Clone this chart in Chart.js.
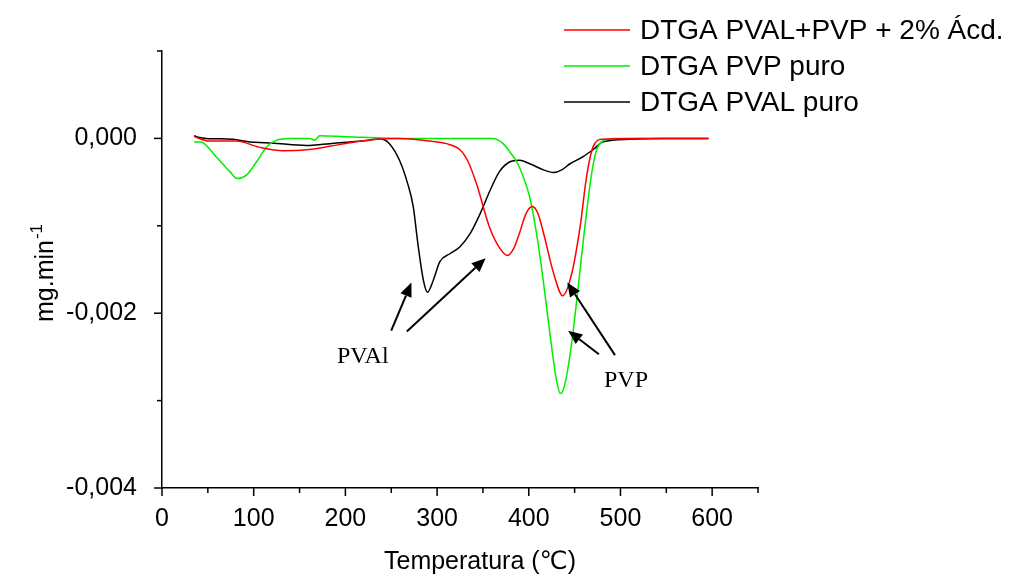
<!DOCTYPE html>
<html>
<head>
<meta charset="utf-8">
<script src="https://cdn.jsdelivr.net/npm/chart.js@4"></script>
<style>
  html, body { margin: 0; padding: 0; background: #fff; }
  #wrap { width: 1024px; height: 578px; }
</style>
</head>
<body>
<div id="wrap"><canvas id="chart" width="1024" height="578"></canvas></div>
<script>
// series: temperature (°C) and DTGA (mg.min-1)
var seriesNames = ['DTGA PVAL+PVP + 2% Ácd.', 'DTGA PVP puro', 'DTGA PVAL puro'];

var redT = [35, 52, 81, 106, 132, 157, 183, 205, 234, 259, 292, 310, 325, 334, 343, 357, 368, 377, 384, 390, 397, 404, 410, 416, 427, 437, 447, 456, 463, 470, 480, 520, 596];
var redV = [0.02, -0.03, -0.03, -0.10, -0.14, -0.13, -0.09, -0.05, -0.01, 0, -0.03, -0.06, -0.13, -0.27, -0.52, -1.01, -1.25, -1.34, -1.25, -1.08, -0.86, -0.78, -0.86, -1.08, -1.54, -1.80, -1.54, -1.01, -0.44, -0.10, -0.01, 0, 0];

var greenT = [35, 42, 59, 74, 82, 92, 103, 114, 125, 139, 161, 166.5, 172, 200, 259, 361, 372, 379, 387, 394, 401, 408.5, 415.7, 423, 430.3, 434.7, 439.4, 446.7, 453.9, 461.2, 468.6, 474, 479.5, 492, 596];
var greenV = [-0.04, -0.04, -0.21, -0.38, -0.46, -0.42, -0.27, -0.10, -0.02, 0, 0, -0.02, 0.03, 0.02, 0, 0, -0.06, -0.15, -0.27, -0.44, -0.67, -1.09, -1.62, -2.23, -2.77, -2.92, -2.81, -2.35, -1.70, -1.01, -0.40, -0.13, -0.04, 0, 0];

var blackT = [35, 41, 48, 77, 96, 114, 139, 161, 183, 205, 226, 237, 248, 259, 268, 274, 279, 285, 289.5, 296, 303, 314, 325, 336, 347, 358, 368, 379, 390, 401, 416, 427, 436, 445, 459, 470, 481, 510, 546, 596];
var blackV = [0.03, 0.01, 0, -0.01, -0.04, -0.05, -0.07, -0.08, -0.06, -0.04, -0.02, -0.005, -0.06, -0.25, -0.52, -0.78, -1.20, -1.62, -1.76, -1.62, -1.41, -1.32, -1.24, -1.09, -0.86, -0.59, -0.38, -0.27, -0.25, -0.29, -0.36, -0.39, -0.36, -0.29, -0.21, -0.13, -0.04, -0.01, 0, 0];

// annotations (data coordinates)
var arrowFromT = [250, 267, 494, 476.5];
var arrowFromV = [-0.00220, -0.00221, -0.00248, -0.00247];
var arrowToT = [272, 353, 442, 443];
var arrowToV = [-0.00165, -0.00137, -0.00165, -0.00220];
var noteText = ['PVAl', 'PVP'];
var noteT = [219, 506];
var noteV = [-0.00257, -0.00285];

function toPoints(t, v) {
    var pts = [];
    for (var i = 0; i < t.length; i++) {
        pts.push({ x: t[i], y: v[i] / 1000 });
    }
    return pts;
}

var sans = '"Liberation Sans", Arial, "DejaVu Sans", sans-serif';

var extras = {
    id: 'extras',
    afterDraw: function(chart) {
        var ctx = chart.ctx;
        var xs = chart.scales.x, ys = chart.scales.y;
        ctx.save();
        ctx.strokeStyle = '#000';
        ctx.fillStyle = '#000';
        ctx.lineWidth = 1.5;

        // tick marks, majors longer
        xs.ticks.forEach(function(t) {
            var px = xs.getPixelForValue(t.value);
            var len = (Math.round(t.value) % 100 === 0) ? 8 : 5;
            ctx.beginPath();
            ctx.moveTo(px, ys.bottom);
            ctx.lineTo(px, ys.bottom + len);
            ctx.stroke();
        });
        ys.ticks.forEach(function(t) {
            var py = ys.getPixelForValue(t.value);
            var len = (Math.abs(Math.round(t.value * 1000)) % 2 === 0) ? 8 : 5;
            ctx.beginPath();
            ctx.moveTo(xs.left - len, py);
            ctx.lineTo(xs.left, py);
            ctx.stroke();
        });

        // axis titles
        ctx.font = '25px ' + sans;
        ctx.textAlign = 'center';
        ctx.textBaseline = 'alphabetic';
        ctx.fillText('Temperatura (℃)', 480, 569);

        ctx.save();
        ctx.translate(53, 322);
        ctx.rotate(-Math.PI / 2);
        ctx.textAlign = 'left';
        ctx.fillText('mg.min', 0, 0);
        var w = ctx.measureText('mg.min').width;
        ctx.font = '17px ' + sans;
        ctx.fillText('-1', w + 1, -11);
        ctx.restore();

        // legend
        ctx.font = '28px ' + sans;
        ctx.textAlign = 'left';
        ctx.textBaseline = 'middle';
        chart.data.datasets.forEach(function(ds, i) {
            var y = 30 + i * 36;
            ctx.strokeStyle = ds.borderColor;
            ctx.lineWidth = 1.5;
            ctx.beginPath();
            ctx.moveTo(564, y);
            ctx.lineTo(630, y);
            ctx.stroke();
            ctx.fillText(ds.label, 640, y + 1);
        });

        // arrows
        ctx.strokeStyle = '#000';
        ctx.lineWidth = 2;
        for (var i = 0; i < arrowFromT.length; i++) {
            var x0 = xs.getPixelForValue(arrowFromT[i]), y0 = ys.getPixelForValue(arrowFromV[i]);
            var x1 = xs.getPixelForValue(arrowToT[i]), y1 = ys.getPixelForValue(arrowToV[i]);
            var ang = Math.atan2(y1 - y0, x1 - x0);
            var hl = 14, hw = 6;
            var bx = x1 - hl * Math.cos(ang), by = y1 - hl * Math.sin(ang);
            ctx.beginPath();
            ctx.moveTo(x0, y0);
            ctx.lineTo(bx, by);
            ctx.stroke();
            ctx.beginPath();
            ctx.moveTo(x1, y1);
            ctx.lineTo(bx + hw * Math.sin(ang), by - hw * Math.cos(ang));
            ctx.lineTo(bx - hw * Math.sin(ang), by + hw * Math.cos(ang));
            ctx.closePath();
            ctx.fill();
        }
        ctx.font = '24px "Liberation Serif", "Times New Roman", serif';
        ctx.textAlign = 'center';
        ctx.textBaseline = 'alphabetic';
        for (var j = 0; j < noteText.length; j++) {
            ctx.fillText(noteText[j], xs.getPixelForValue(noteT[j]), ys.getPixelForValue(noteV[j]));
        }
        ctx.restore();
    }
};

var ctx = document.getElementById('chart').getContext('2d');
window.chart = new Chart(ctx, {
    type: 'scatter',
    data: {
        datasets: [
            { label: seriesNames[0], data: toPoints(redT, redV), borderColor: '#ff0000' },
            { label: seriesNames[1], data: toPoints(greenT, greenV), borderColor: '#00ee00' },
            { label: seriesNames[2], data: toPoints(blackT, blackV), borderColor: '#000000' }
        ]
    },
    options: {
        responsive: false,
        animation: false,
        showLine: true,
        layout: { padding: { top: 51, right: 266, bottom: 0, left: 0 } },
        elements: {
            point: { radius: 0, hoverRadius: 0 },
            line: { borderWidth: 1.5, cubicInterpolationMode: 'monotone', fill: false }
        },
        plugins: {
            legend: { display: false },
            tooltip: { enabled: false }
        },
        scales: {
            x: {
                type: 'linear',
                min: 0,
                max: 650,
                afterFit: function(s) { s.height = 90; },
                grid: { display: true, drawOnChartArea: false, drawTicks: false },
                border: { display: true, color: '#000', width: 1.5 },
                ticks: {
                    stepSize: 50,
                    padding: 16,
                    color: '#000',
                    font: { family: sans, size: 25 },
                    maxRotation: 0,
                    autoSkip: false,
                    callback: function(v) { return (Math.round(v) % 100 === 0) ? String(v) : ''; }
                }
            },
            y: {
                min: -0.004,
                max: 0.001,
                afterFit: function(s) { s.width = 162; },
                grid: { display: true, drawOnChartArea: false, drawTicks: false },
                border: { display: true, color: '#000', width: 1.5 },
                ticks: {
                    stepSize: 0.001,
                    padding: 25,
                    color: '#000',
                    font: { family: sans, size: 25 },
                    autoSkip: false,
                    callback: function(v) {
                        var k = Math.round(v * 1000);
                        if (k % 2 !== 0 || k > 0) return '';
                        return (k === 0 ? '0,000' : v.toFixed(3).replace('.', ','));
                    }
                }
            }
        }
    },
    plugins: [extras]
});
</script>
</body>
</html>
